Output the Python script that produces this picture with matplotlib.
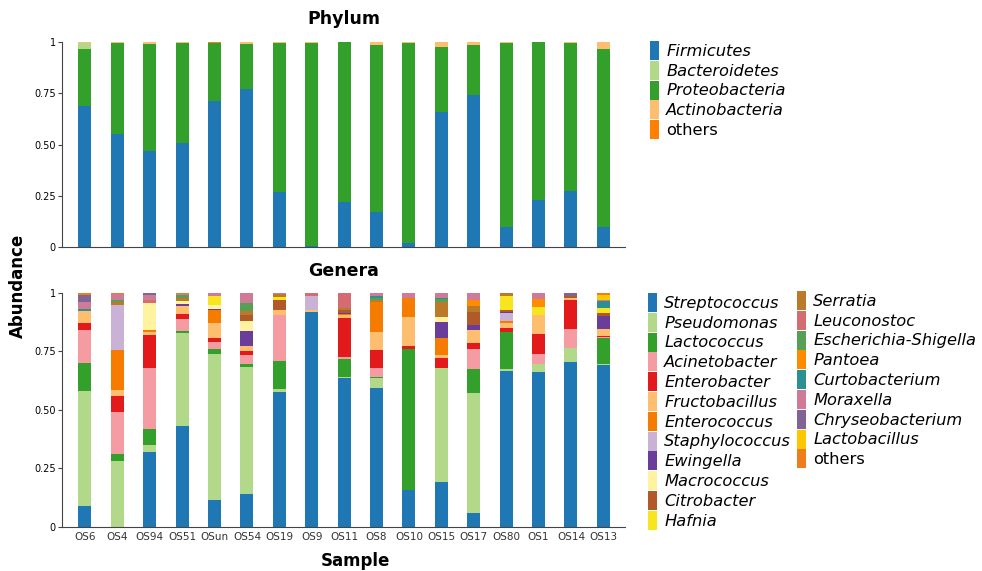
import matplotlib
matplotlib.use('Agg')
import matplotlib.pyplot as plt
import numpy as np
from matplotlib.patches import Patch

samples = ['OS6', 'OS4', 'OS94', 'OS51', 'OSun', 'OS54', 'OS19', 'OS9', 'OS11',
           'OS8', 'OS10', 'OS15', 'OS17', 'OS80', 'OS1', 'OS14', 'OS13']

# phylum level
firmicutes = [.69, .55, .47, .505, .71, .77, .266, .006, .219, .173, .019, .658, .744, .10, .227, .272, .097]
bacteroidetes = [.027, 0, 0, 0, 0, 0, 0, 0, 0, 0, 0, 0, 0, 0, 0, 0, 0]
proteobacteria = [.278, .445, .519, .492, .287, .222, .729, .991, .781, .814, .976, .318, .243, .897, .773, .725, .871]
actinobacteria = [.005, .005, .011, .003, 0, .008, .005, .003, 0, .013, .005, .024, .013, .003, 0, .003, .032]
others_phylum = [0, 0, 0, 0, .003, 0, 0, 0, 0, 0, 0, 0, 0, 0, 0, 0, 0]

phylum_names = ['Firmicutes', 'Bacteroidetes', 'Proteobacteria', 'Actinobacteria', 'others']
phylum_values = [firmicutes, bacteroidetes, proteobacteria, actinobacteria, others_phylum]
phylum_colors = ['#1f78b4', '#b2d98a', '#33a02c', '#fdbf6f', '#ff7f00']
# bars are stacked with Proteobacteria right above Firmicutes
phylum_stack = [0, 2, 1, 3, 4]

# genus level
streptococcus = [.09, 0, .32, .43, .115, .14, .578, .917, .635, .593, .157, .194, .06, .668, .664, .704, .692]
pseudomonas = [.49, .28, .03, .40, .625, .545, .012, 0, .005, .042, 0, .484, .511, .007, .033, .06, .004]
lactococcus = [.12, .03, .07, .007, .02, .012, .119, 0, .078, .006, .604, 0, .104, .16, 0, 0, .11]
acinetobacter = [.14, .18, .26, .05, .03, .038, .197, 0, .01, .04, 0, 0, .086, 0, .041, .082, .007]
enterobacter = [.03, .07, .14, .025, .018, .019, 0, 0, .167, .075, .012, .043, .024, .017, .085, .124, .005]
fructobacillus = [.055, .025, .015, .033, .065, .021, .021, .01, .01, .079, .126, .014, .057, .018, .083, .01, .03]
enterococcus = [0, .17, .007, 0, .055, 0, 0, 0, .005, .125, .078, .074, 0, .01, 0, 0, 0]
staphylococcus = [0, .195, 0, 0, 0, 0, 0, .06, 0, 0, 0, 0, 0, .033, 0, 0, 0]
ewingella = [0, 0, 0, .006, .004, .063, 0, 0, .004, 0, 0, .068, .021, .005, 0, 0, .055]
macrococcus = [0, 0, .115, .015, .016, .042, 0, 0, 0, 0, 0, .022, 0, 0, 0, 0, 0]
citrobacter = [0, 0, 0, 0, 0, .024, .043, 0, .015, 0, 0, 0, .057, .009, 0, .008, .01]
hafnia = [0, 0, 0, 0, .038, 0, .014, 0, 0, 0, 0, 0, 0, .062, .036, 0, .023]
serratia = [0, .01, 0, .012, 0, .019, .01, 0, .008, .01, 0, .064, .026, .011, 0, 0, 0]
leuconostoc = [0, 0, .015, 0, 0, 0, 0, .013, .063, 0, 0, 0, 0, 0, 0, 0, 0]
escherichia = [0, .01, 0, .012, 0, .033, 0, 0, 0, .01, 0, .01, 0, 0, 0, 0, 0]
pantoea = [0, 0, 0, 0, 0, 0, 0, 0, 0, 0, 0, 0, .024, 0, .032, 0, 0]
curtobacterium = [.005, 0, 0, 0, 0, 0, 0, 0, 0, .005, 0, .006, 0, 0, 0, 0, .028]
moraxella = [.033, .025, .02, .007, .014, .044, .006, 0, 0, .015, .023, .021, .03, 0, .026, 0, .006]
chryseobacterium = [.03, 0, .008, 0, 0, 0, 0, 0, 0, 0, 0, 0, 0, 0, 0, .012, 0]
lactobacillus = [0, 0, 0, 0, 0, 0, 0, 0, 0, 0, 0, 0, 0, 0, 0, 0, .021]
others_genus = [.005, .005, 0, .003, 0, 0, 0, 0, 0, 0, 0, 0, 0, 0, 0, 0, .009]

genus_names = ['Streptococcus', 'Pseudomonas', 'Lactococcus', 'Acinetobacter', 'Enterobacter',
               'Fructobacillus', 'Enterococcus', 'Staphylococcus', 'Ewingella', 'Macrococcus',
               'Citrobacter', 'Hafnia', 'Serratia', 'Leuconostoc', 'Escherichia-Shigella',
               'Pantoea', 'Curtobacterium', 'Moraxella', 'Chryseobacterium', 'Lactobacillus', 'others']
genus_values = [streptococcus, pseudomonas, lactococcus, acinetobacter, enterobacter,
                fructobacillus, enterococcus, staphylococcus, ewingella, macrococcus,
                citrobacter, hafnia, serratia, leuconostoc, escherichia,
                pantoea, curtobacterium, moraxella, chryseobacterium, lactobacillus, others_genus]
genus_colors = ['#1f78b4', '#b2d98a', '#33a02c', '#f49ca2', '#e31a1c',
                '#fdbf6f', '#f57c00', '#cab2d6', '#6a3d9a', '#fff3a0',
                '#b15928', '#f7e51e', '#bb7a2a', '#d46c72', '#55a055',
                '#ff8c00', '#2b8f94', '#cf7a96', '#7f6495', '#ffc700', '#ef7d1c']

fig = plt.figure(figsize=(9.82, 5.71), dpi=100)
ax_top = fig.add_axes([0.0631, 0.5674, 0.5734, 0.359])
ax_bot = fig.add_axes([0.0631, 0.0771, 0.5734, 0.4098])

x = np.arange(len(samples))


def stacked(ax, values, colors, order=None):
    if order is None:
        order = range(len(values))
    bottom = np.zeros(len(samples))
    for i in order:
        vals = np.array(values[i])
        ax.bar(x, vals, 0.4, bottom=bottom, color=colors[i], linewidth=0)
        bottom += vals


def style(ax):
    ax.set_xlim(-0.71, 16.67)
    ax.set_ylim(0, 1)
    ax.set_yticks([0, 0.25, 0.5, 0.75, 1])
    ax.set_yticklabels(['0', '0.25', '0.50', '0.75', '1'], fontsize=7)
    ax.spines['top'].set_visible(False)
    ax.spines['right'].set_visible(False)
    ax.spines['left'].set_color('#444444')
    ax.spines['bottom'].set_color('#444444')
    ax.tick_params(axis='y', length=3, width=0.8, color='#444444', pad=1.5)
    ax.tick_params(axis='x', length=0)


stacked(ax_top, phylum_values, phylum_colors, phylum_stack)
style(ax_top)
ax_top.set_xticks([])
ax_top.set_title('Phylum', fontsize=12.5, fontweight='bold', pad=13)

stacked(ax_bot, genus_values, genus_colors)
style(ax_bot)
ax_bot.set_xticks(x)
ax_bot.set_xticklabels(samples, fontsize=7.5, color='#333333')
ax_bot.set_title('Genera', fontsize=12.5, fontweight='bold', pad=12)

fig.text(0.3615, 1 - 561 / 571, 'Sample', fontsize=12, fontweight='bold', va='center', ha='center')
fig.text(0.018, 0.5, 'Abundance', rotation=90, fontsize=12, fontweight='bold', va='center', ha='center')


def make_legend(names, colors, anchor):
    handles = [Patch(facecolor=c, edgecolor='none') for c in colors]
    leg = fig.legend(handles, names, loc='upper left', bbox_to_anchor=anchor, frameon=False,
                     fontsize=11.7, handlelength=0.58, handleheight=1.42, handletextpad=0.42,
                     labelspacing=0.05, borderpad=0, borderaxespad=0)
    for t in leg.get_texts():
        if t.get_text() != 'others':
            t.set_style('italic')
    return leg


make_legend(phylum_names, phylum_colors, (650 / 982, 1 - 41 / 571))
make_legend(genus_names[:12], genus_colors[:12], (648 / 982, 1 - 293 / 571))
make_legend(genus_names[12:], genus_colors[12:], (797 / 982, 1 - 291 / 571))

fig.savefig('out.png', dpi=100)
